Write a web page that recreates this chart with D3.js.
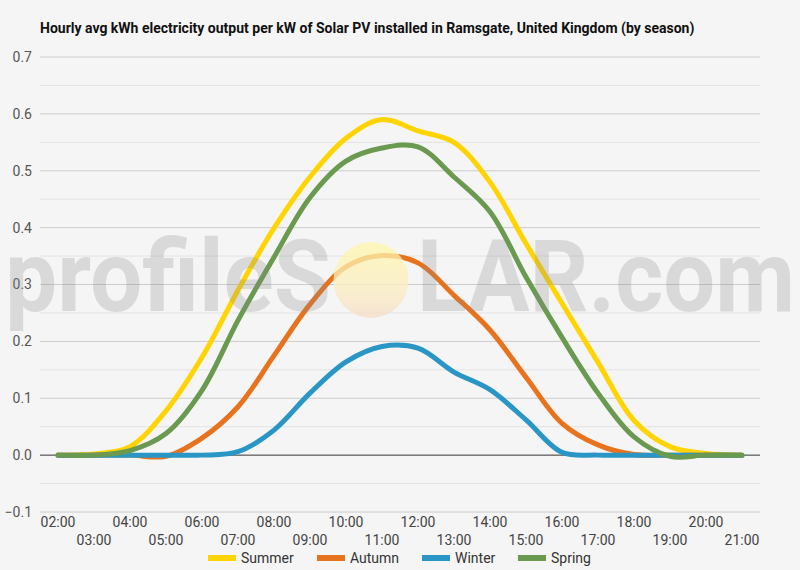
<!DOCTYPE html>
<html>
<head>
<meta charset="utf-8">
<script src="https://cdn.jsdelivr.net/npm/d3@7"></script>
<style>
  body { margin: 0; background: #f5f5f5; }
  svg { display: block; font-family: Roboto, "Noto Sans", sans-serif; }
</style>
</head>
<body>
<div id="graph"></div>
<script>
var hours = ["02:00", "03:00", "04:00", "05:00", "06:00", "07:00", "08:00", "09:00", "10:00", "11:00",
  "12:00", "13:00", "14:00", "15:00", "16:00", "17:00", "18:00", "19:00", "20:00", "21:00"];

var summer = [0, 0.002, 0.015, 0.078, 0.172, 0.29, 0.399, 0.489, 0.557, 0.59,
  0.57, 0.55, 0.48, 0.372, 0.267, 0.163, 0.061, 0.015, 0.003, 0];
var autumn = [0, 0, 0, -0.002, 0.03, 0.085, 0.175, 0.265, 0.331, 0.351,
  0.338, 0.281, 0.22, 0.137, 0.056, 0.018, 0.001, 0, 0, 0];
var winter = [0, 0, 0, 0, 0, 0.006, 0.044, 0.109, 0.164, 0.191,
  0.188, 0.146, 0.115, 0.062, 0.005, 0, 0, 0, 0, 0];
var spring = [0, 0, 0.008, 0.038, 0.114, 0.237, 0.348, 0.453, 0.517, 0.54,
  0.542, 0.489, 0.428, 0.313, 0.207, 0.109, 0.032, -0.002, 0, 0];

var seriesNames = ["Summer", "Autumn", "Winter", "Spring"];
var seriesValues = [summer, autumn, winter, spring];
var seriesColors = ["#ffd400", "#e8731e", "#2a96c6", "#6a9a4f"];

var yTicks = [-0.1, 0, 0.1, 0.2, 0.3, 0.4, 0.5, 0.6, 0.7];
var yMinor = [-0.05, 0.05, 0.15, 0.25, 0.35, 0.45, 0.55, 0.65];

var width = 800, height = 570;
var margin = { top: 57, left: 40, bottom: 58, right: 40 };
var chartWidth = width - margin.left - margin.right;
var chartHeight = height - margin.top - margin.bottom;

var svg = d3.select("#graph").append("svg")
  .attr("width", width).attr("height", height);

svg.append("rect").attr("width", width).attr("height", height).attr("fill", "#f5f5f5");

svg.append("text")
  .attr("x", 40).attr("y", 33)
  .attr("font-size", 14).attr("font-weight", "bold").attr("fill", "#111")
  .text("Hourly avg kWh electricity output per kW of Solar PV installed in Ramsgate, United Kingdom (by season)");

var xScale = d3.scaleBand().domain(hours).range([margin.left, margin.left + chartWidth]);
var yScale = d3.scaleLinear().domain([-0.1, 0.7]).range([margin.top + chartHeight, margin.top]);
var xPos = function(h) { return xScale(h) + xScale.bandwidth() / 2; };

var grid = svg.append("g").attr("class", "grid");
grid.selectAll("line.minor").data(yMinor).enter().append("line")
  .attr("class", "minor")
  .attr("x1", margin.left).attr("x2", margin.left + chartWidth)
  .attr("y1", yScale).attr("y2", yScale)
  .attr("stroke", "#e3e3e3").attr("stroke-width", 1);
grid.selectAll("line.major").data(yTicks).enter().append("line")
  .attr("class", "major")
  .attr("x1", margin.left).attr("x2", margin.left + chartWidth)
  .attr("y1", yScale).attr("y2", yScale)
  .attr("stroke", function(d) { return d === 0 ? "#333" : "#ccc"; })
  .attr("stroke-width", 1);

// y axis labels
var yAxis = d3.axisLeft(yScale).tickValues(yTicks).tickSize(0).tickPadding(8)
  .tickFormat(d3.format(".1f"));
svg.append("g").attr("transform", "translate(" + margin.left + ",0)")
  .call(yAxis)
  .call(function(g) { g.select(".domain").remove(); })
  .selectAll("text").attr("font-size", 14).attr("fill", "#555")
  .attr("font-family", "Roboto, sans-serif");

// x axis labels, staggered
var xAxis = d3.axisBottom(xScale).tickSize(0).tickPadding(0);
var xg = svg.append("g").attr("transform", "translate(0," + (margin.top + chartHeight) + ")")
  .call(xAxis)
  .call(function(g) { g.select(".domain").remove(); });
xg.selectAll("text")
  .attr("font-size", 14).attr("fill", "#444").attr("font-family", "Roboto, sans-serif")
  .attr("dy", null)
  .attr("y", function(d, i) { return i % 2 === 0 ? 15 : 33; });

// lines
var line = d3.line()
  .x(function(d) { return xPos(d.h); })
  .y(function(d) { return yScale(d.v); })
  .curve(d3.curveCatmullRom.alpha(0.5));

var lines = svg.append("g").attr("class", "lines");
seriesValues.forEach(function(vals, k) {
  var pts = vals.map(function(v, i) { return { h: hours[i], v: v }; });
  lines.append("path")
    .datum(pts)
    .attr("d", line)
    .attr("fill", "none")
    .attr("stroke", seriesColors[k])
    .attr("stroke-width", 5)
    .attr("stroke-linejoin", "round")
    .attr("stroke-linecap", "round");
});

// watermark
var defs = svg.append("defs");
var grad = defs.append("linearGradient").attr("id", "sun").attr("x1", 0).attr("y1", 0).attr("x2", 0).attr("y2", 1);
grad.append("stop").attr("offset", "0%").attr("stop-color", "#fff7a8");
grad.append("stop").attr("offset", "60%").attr("stop-color", "#fbeec0");
grad.append("stop").attr("offset", "100%").attr("stop-color", "#f6dcc8");

var wm = svg.append("g").attr("class", "watermark").attr("pointer-events", "none");
wm.append("ellipse").attr("cx", 371).attr("cy", 280).attr("rx", 37.5).attr("ry", 38)
  .attr("fill", "url(#sun)").attr("opacity", 0.75);
wm.append("text").attr("x", 5).attr("y", 311)
  .attr("font-size", 100).attr("font-weight", "bold").attr("font-family", "Roboto, sans-serif")
  .attr("textLength", 326).attr("lengthAdjust", "spacingAndGlyphs")
  .attr("fill", "#8a8a8a").attr("opacity", 0.25)
  .text("profileS");
wm.append("text").attr("x", 417).attr("y", 311)
  .attr("font-size", 100).attr("font-weight", "bold").attr("font-family", "Roboto, sans-serif")
  .attr("textLength", 378).attr("lengthAdjust", "spacingAndGlyphs")
  .attr("fill", "#8a8a8a").attr("opacity", 0.25)
  .text("LAR.com");

// legend
var legendX = [208, 317, 422, 518];
var legend = svg.append("g").attr("class", "legend")
  .selectAll("g").data(seriesNames).enter().append("g")
  .attr("transform", function(d, i) { return "translate(" + legendX[i] + ",558)"; });
legend.append("rect")
  .attr("x", 0).attr("y", -3).attr("width", 28).attr("height", 6)
  .attr("fill", function(d, i) { return seriesColors[i]; });
legend.append("text")
  .attr("x", 33).attr("y", 0).attr("dy", "0.35em")
  .attr("font-size", 14).attr("fill", "#333")
  .text(function(d) { return d; });
</script>
</body>
</html>
